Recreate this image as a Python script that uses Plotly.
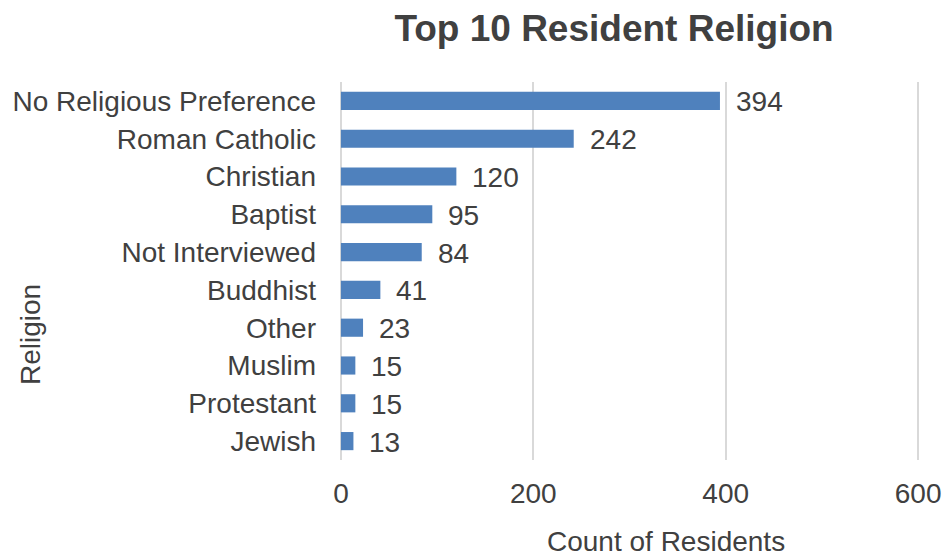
import plotly.graph_objects as go

religions = ["No Religious Preference", "Roman Catholic", "Christian", "Baptist",
             "Not Interviewed", "Buddhist", "Other", "Muslim", "Protestant", "Jewish"]
counts = [394, 242, 120, 95, 84, 41, 23, 15, 15, 13]
x_ticks = [0, 200, 400, 600]

FONT = "Liberation Sans"
TXT = "#404040"

fig = go.Figure(go.Bar(
    x=counts, y=religions, orientation="h",
    marker=dict(color="#4f81bd", line=dict(width=0)),
    width=0.48,
    hoverinfo="x+y",
))

annotations = []
for r, c in zip(religions, counts):
    annotations.append(dict(x=c, y=r, xref="x", yref="y", text=str(c), showarrow=False,
                            xanchor="left", yanchor="middle", xshift=14, yshift=-1,
                            font=dict(family=FONT, size=28, color=TXT)))
annotations.append(dict(text="Count of Residents", xref="paper", yref="paper",
                        x=(666 - 339) / (921 - 339), y=-(541 - 460) / (460 - 82),
                        xanchor="center", yanchor="middle", showarrow=False,
                        font=dict(family=FONT, size=28, color=TXT)))
annotations.append(dict(text="Religion", xref="paper", yref="paper",
                        x=-(339 - 30) / (921 - 339), y=(460 - 335) / (460 - 82),
                        xanchor="center", yanchor="middle", showarrow=False, textangle=-90,
                        font=dict(family=FONT, size=28, color=TXT)))

fig.update_layout(
    width=944, height=557,
    margin=dict(l=339, r=23, t=82, b=97),
    paper_bgcolor="white", plot_bgcolor="white",
    title=dict(text="<b>Top 10 Resident Religion</b>", x=614 / 944, xanchor="center",
               xref="container", y=1 - 28 / 557, yanchor="middle", yref="container",
               font=dict(family=FONT, size=37, color=TXT)),
    xaxis=dict(range=[-2, 603], tickvals=x_ticks, showgrid=True, gridcolor="#d9d9d9",
               gridwidth=1.5, zeroline=False, showline=False, ticks="", automargin=False,
               tickfont=dict(family=FONT, size=28, color=TXT), ticklabelstandoff=14),
    yaxis=dict(autorange="reversed", showgrid=False, zeroline=False, showline=False,
               ticks="", automargin=False, tickfont=dict(family=FONT, size=28, color=TXT),
               ticklabelstandoff=22),
    annotations=annotations,
    showlegend=False,
)

fig.write_html("out.html", config={"displayModeBar": False},
               post_script="document.body.style.margin='0';document.body.style.overflow='hidden';")
